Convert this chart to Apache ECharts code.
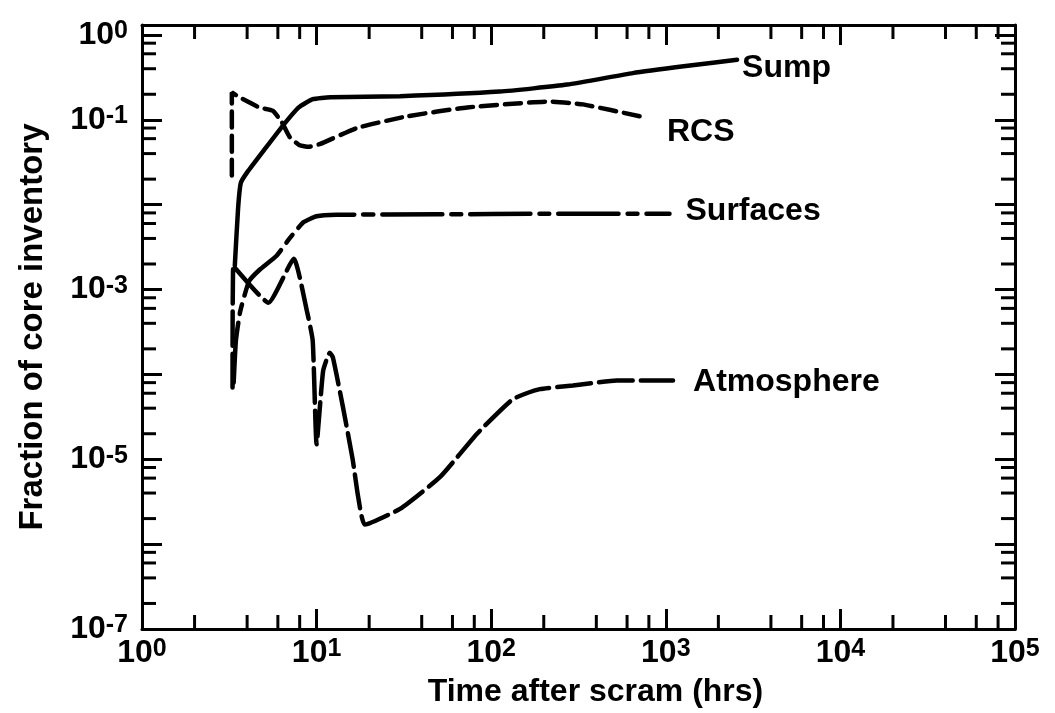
<!DOCTYPE html>
<html>
<head>
<meta charset="utf-8">
<title>Fraction of core inventory</title>
<script src="https://cdn.jsdelivr.net/npm/echarts@6/dist/echarts.min.js"></script>
<style>
html, body { margin: 0; padding: 0; background: #fff; }
#chart { width: 1055px; height: 713px; }
</style>
</head>
<body>
<div id="chart"></div>
<script>
// values: time after scram (hrs) / fraction of core inventory
var sumpTime  = [3.4, 3.55, 3.68, 4.0, 5.0, 6.4, 7.9, 9.5, 12, 30, 112, 272, 647, 1300, 2560];
var sumpValue = [1.9e-3, 9e-3, 1.8e-2, 2.4e-2, 4.4e-2, 8.5e-2, 0.14, 0.175, 0.185, 0.19, 0.215, 0.26, 0.355, 0.43, 0.51];

var rcsTime  = [3.27, 3.27, 3.6, 4.7, 5.6, 6.3, 7.0, 8.0, 9.0, 10.5, 17, 33, 73, 217, 335, 711];
var rcsValue = [0.022, 0.21, 0.185, 0.14, 0.128, 0.095, 0.063, 0.05, 0.048, 0.052, 0.08, 0.11, 0.14, 0.164, 0.152, 0.11];

var surfTime  = [3.35, 3.45, 3.65, 4.1, 4.7, 5.9, 7.0, 8.4, 10, 13, 50, 200, 1050];
var surfValue = [8e-5, 2.5e-4, 5.5e-4, 1.25e-3, 1.7e-3, 2.5e-3, 4.0e-3, 6.2e-3, 7.3e-3, 7.6e-3, 7.7e-3, 7.8e-3, 7.8e-3];

var atmTime  = [3.3, 3.33, 5.3, 7.4, 8.8, 9.5, 10.0, 10.9, 11.9, 12.4, 14.1, 16.1, 17.3, 18.9, 30, 51, 83, 133, 190, 294, 525, 1100];
var atmValue = [7e-5, 1.9e-3, 7e-4, 2.3e-3, 5.6e-4, 2.5e-4, 1.5e-5, 1.1e-4, 1.8e-4, 1.58e-4, 4.3e-5, 9.9e-6, 3.6e-6, 1.7e-6, 2.6e-6, 6.2e-6, 2.0e-5, 5.1e-5, 6.7e-5, 7.4e-5, 8.5e-5, 8.5e-5];

// axis decoration
var yLabelExp = [0, -1, -3, -5, -7];
var minorSteps = [2, 4, 6, 8];
var X_MIN = 1, X_MAX = 1e5, Y_MIN = 1e-7, Y_MAX = 1.31;

var FONT = '"Liberation Sans", Arial, Helvetica, sans-serif';
var MAJOR_LEN = 20, MINOR_LEN = 14;

var labelRich = {
    b: { fontSize: 32, fontWeight: 'bold', fontFamily: FONT, color: '#000' },
    s: { fontSize: 25, fontWeight: 'bold', fontFamily: FONT, color: '#000', verticalAlign: 'top' }
};

function pairs(t, v) {
    var out = [];
    for (var i = 0; i < t.length; i++) {
        out.push([t[i], v[i]]);
    }
    return out;
}

function exp_label(value, only) {
    var lg = Math.log(value) / Math.LN10;
    var e = Math.round(lg);
    if (Math.abs(lg - e) > 1e-6) return '';
    if (only && only.indexOf(e) < 0) return '';
    return '{b|10}{s|' + e + '}';
}

function tick_style() {
    return { stroke: '#000', lineWidth: 3 };
}

// minor ticks at 2,4,6,8 of every decade, on both sides of the frame
function x_minor_item(params, api) {
    var t = api.value(0);
    var b = api.coord([t, Y_MIN]);
    var u = api.coord([t, Y_MAX]);
    return {
        type: 'group',
        children: [
            { type: 'line', shape: { x1: b[0], y1: b[1], x2: b[0], y2: b[1] - MINOR_LEN }, style: tick_style() },
            { type: 'line', shape: { x1: u[0], y1: u[1], x2: u[0], y2: u[1] + MINOR_LEN }, style: tick_style() }
        ]
    };
}

function y_minor_item(params, api) {
    var v = api.value(1);
    var l = api.coord([X_MIN, v]);
    var r = api.coord([X_MAX, v]);
    return {
        type: 'group',
        children: [
            { type: 'line', shape: { x1: l[0], y1: l[1], x2: l[0] + MINOR_LEN, y2: l[1] }, style: tick_style() },
            { type: 'line', shape: { x1: r[0], y1: r[1], x2: r[0] - MINOR_LEN, y2: r[1] }, style: tick_style() }
        ]
    };
}

function axis_base(min, max, position) {
    return {
        type: 'log',
        logBase: 10,
        min: min,
        max: max,
        position: position,
        axisLine: { onZero: false, lineStyle: { color: '#000', width: 3 } },
        axisTick: { inside: true, length: MAJOR_LEN, lineStyle: { color: '#000', width: 3 } },
        axisLabel: { show: false },
        splitLine: { show: false },
        minorTick: { show: false }
    };
}

function line_series(name, data, dash, offset) {
    return {
        name: name,
        type: 'line',
        data: data,
        symbol: 'none',
        smooth: 0.15,
        lineStyle: { color: '#000', width: 4.5, type: dash, cap: 'round' },
        endLabel: {
            show: true,
            formatter: name,
            distance: 0,
            offset: offset,
            color: '#000',
            fontSize: 32,
            fontWeight: 'bold',
            fontFamily: FONT
        },
        z: 3
    };
}

function get_option() {
    var xMinor = [], yMinor = [];
    var e, i;
    for (e = 0; e < 5; e++) {
        for (i = 0; i < minorSteps.length; i++) xMinor.push([minorSteps[i] * Math.pow(10, e), Y_MIN]);
    }
    for (e = -7; e < 0; e++) {
        for (i = 0; i < minorSteps.length; i++) yMinor.push([X_MIN, minorSteps[i] * Math.pow(10, e)]);
    }

    var xBottom = axis_base(X_MIN, X_MAX, 'bottom');
    xBottom.axisLabel = {
        show: true,
        margin: 8,
        formatter: function (v) { return exp_label(v); },
        rich: labelRich
    };
    xBottom.name = 'Time after scram (hrs)';
    xBottom.nameLocation = 'middle';
    xBottom.nameGap = 47;
    xBottom.nameTextStyle = { color: '#000', fontSize: 32, fontWeight: 'bold', fontFamily: FONT, padding: [0, 0, 0, 34] };

    var yLeft = axis_base(Y_MIN, Y_MAX, 'left');
    yLeft.axisLabel = {
        show: true,
        margin: 14,
        formatter: function (v) { return exp_label(v, yLabelExp); },
        rich: labelRich
    };
    yLeft.name = 'Fraction of core inventory';
    yLeft.nameLocation = 'middle';
    yLeft.nameRotate = 90;
    yLeft.nameGap = 93;
    yLeft.nameTextStyle = { color: '#000', fontSize: 33, fontWeight: 'bold', fontFamily: FONT };

    return {
        backgroundColor: '#fff',
        animation: false,
        grid: { left: 142, right: 40, top: 25, bottom: 81, containLabel: false },
        xAxis: [xBottom, axis_base(X_MIN, X_MAX, 'top')],
        yAxis: [yLeft, axis_base(Y_MIN, Y_MAX, 'right')],
        series: [
            line_series('Sump', pairs(sumpTime, sumpValue), 'solid', [5, 8]),
            line_series('RCS', pairs(rcsTime, rcsValue), [16, 8], [27, 16]),
            line_series('Surfaces', pairs(surfTime, surfValue), [60, 9, 10, 9], [16, -3]),
            line_series('Atmosphere', pairs(atmTime, atmValue), [34, 8], [20, 2]),
            { type: 'custom', data: xMinor, renderItem: x_minor_item, silent: true, z: 2 },
            { type: 'custom', data: yMinor, renderItem: y_minor_item, silent: true, z: 2 }
        ]
    };
}

var myChart = echarts.init(document.getElementById('chart'));
myChart.setOption(get_option());
</script>
</body>
</html>
